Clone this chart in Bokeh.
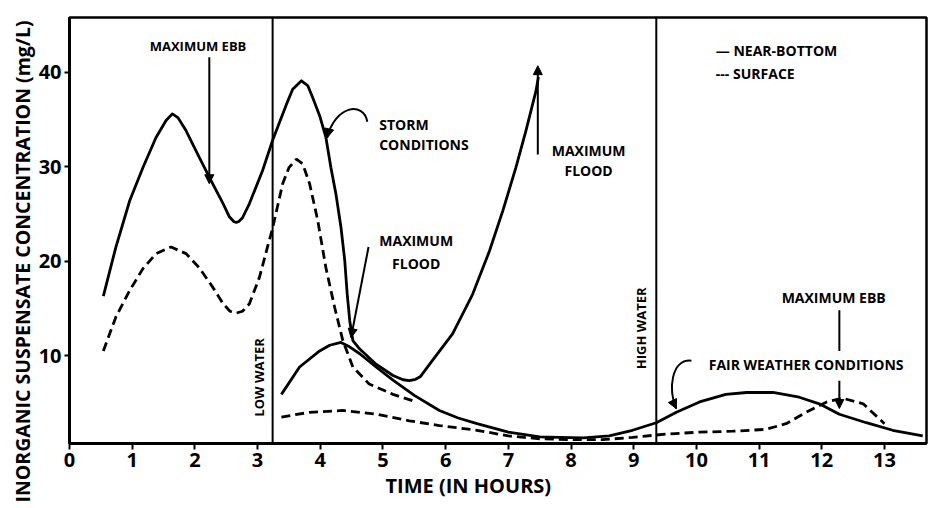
import math

from bokeh.plotting import figure
from bokeh.models import Range1d, FixedTicker, Span, Label, Arrow, NormalHead, Title
from bokeh.embed import file_html
from bokeh.resources import INLINE

FONT = "Open Sans"

# Storm conditions, near-bottom concentration (mg/L) against time (hours)
storm_bottom_time = [0.54, 0.74, 0.96, 1.17, 1.38, 1.54, 1.64, 1.73, 1.86, 2.07, 2.26,
                     2.45, 2.55, 2.62, 2.66, 2.70, 2.76, 2.87, 3.08, 3.24, 3.46, 3.56,
                     3.70, 3.80, 3.88, 3.99, 4.09, 4.17, 4.25, 4.33, 4.39, 4.43, 4.47,
                     4.52, 4.63, 4.89, 5.16, 5.32, 5.42, 5.52, 5.60, 5.79, 6.11, 6.43,
                     6.70, 6.91, 7.12, 7.28, 7.44, 7.48]
storm_bottom_conc = [16.3, 21.5, 26.4, 29.9, 33.1, 34.9, 35.6, 35.2, 33.8, 31.0, 28.5,
                     26.1, 24.7, 24.2, 24.1, 24.2, 24.6, 26.1, 29.6, 32.8, 36.6, 38.2,
                     39.1, 38.6, 37.3, 35.4, 33.1, 29.9, 27.1, 23.6, 20.1, 16.5, 13.7,
                     11.6, 10.7, 9.1, 7.9, 7.45, 7.35, 7.5, 7.8, 9.5, 12.3, 16.5,
                     21.1, 25.3, 29.9, 33.8, 38.0, 39.5]

# Storm conditions, surface concentration
storm_surface_time = [0.54, 0.74, 0.96, 1.17, 1.38, 1.62, 1.86, 2.07, 2.29, 2.45, 2.56,
                      2.66, 2.76, 2.87, 3.03, 3.17, 3.24, 3.40, 3.50, 3.62, 3.72, 3.83,
                      3.96, 4.09, 4.23, 4.36, 4.52, 4.78, 5.16, 5.53]
storm_surface_conc = [10.5, 14.1, 16.9, 19.2, 20.8, 21.5, 20.8, 19.3, 17.2, 15.5, 14.7,
                      14.5, 14.7, 15.5, 18.3, 21.8, 23.5, 28.2, 29.9, 30.8, 30.3, 28.2,
                      24.3, 19.3, 15.1, 11.6, 8.8, 7.0, 5.9, 5.1]

# Fair weather conditions, near-bottom concentration
fair_bottom_time = [3.38, 3.67, 3.99, 4.15, 4.33, 4.45, 4.63, 4.89, 5.16, 5.50, 5.90,
                    6.20, 6.50, 7.00, 7.50, 7.81, 8.20, 8.61, 8.98, 9.36, 9.68, 10.05,
                    10.47, 10.80, 11.22, 11.64, 11.96, 12.28, 12.71, 13.13, 13.61]
fair_bottom_conc = [5.9, 8.8, 10.5, 11.1, 11.4, 11.0, 10.2, 8.8, 7.4, 5.8, 4.2,
                    3.4, 2.8, 1.9, 1.4, 1.35, 1.3, 1.5, 2.1, 2.9, 4.0, 5.1,
                    5.9, 6.1, 6.1, 5.6, 4.9, 3.8, 2.9, 2.1, 1.5]

# Fair weather conditions, surface concentration
fair_surface_time = [3.38, 3.83, 4.36, 4.89, 5.42, 5.90, 6.50, 7.00, 7.50, 8.00, 8.50,
                     8.98, 9.52, 10.05, 10.58, 11.11, 11.43, 11.75, 12.08, 12.33, 12.66,
                     13.00]
fair_surface_conc = [3.5, 4.0, 4.2, 3.8, 3.1, 2.6, 2.1, 1.5, 1.2, 1.1, 1.1,
                     1.35, 1.7, 1.9, 2.0, 2.2, 2.8, 4.0, 5.1, 5.5, 4.9,
                     2.8]

x_ticks = list(range(0, 14))
y_ticks = [10, 20, 30, 40]

low_water_time = 3.24
high_water_time = 9.36

x_title = "TIME (IN HOURS)"
y_title = "INORGANIC SUSPENSATE CONCENTRATION (mg/L)"

p = figure(width=935, height=508,
           x_range=Range1d(0, 13.67), y_range=Range1d(0.7, 45.8),
           output_backend="svg", toolbar_location=None, min_border=0)
p.min_border_left = 69
p.min_border_right = 9
p.min_border_top = 17
p.min_border_bottom = 65
p.grid.visible = False
p.background_fill_color = "white"
p.border_fill_color = "white"
p.outline_line_color = "black"
p.outline_line_width = 2.5

p.xaxis.ticker = FixedTicker(ticks=x_ticks)
p.yaxis.ticker = FixedTicker(ticks=y_ticks)
for ax in (p.xaxis[0], p.yaxis[0]):
    ax.axis_line_width = 3
    ax.axis_line_color = "black"
    ax.major_tick_in = 0
    ax.major_tick_line_width = 2
    ax.major_tick_line_color = "black"
    ax.minor_tick_line_color = None
    ax.major_label_text_font = FONT
    ax.major_label_text_font_style = "bold"
    ax.major_label_text_font_size = "20px"
    ax.major_label_text_color = "black"
p.xaxis.major_tick_out = 6
p.xaxis.major_label_standoff = 3
p.yaxis.major_tick_out = 5
p.yaxis.major_label_standoff = 3

# Axis titles sit off-centre, so they are side titles rather than axis labels
p.add_layout(Title(text=x_title, align="left", offset=316, standoff=0,
                   text_font=FONT, text_font_style="bold", text_font_size="20px",
                   text_color="black"), "below")
p.add_layout(Title(text=y_title, align="right", offset=3, standoff=0,
                   text_font=FONT, text_font_style="bold", text_font_size="19.5px",
                   text_color="black"), "left")

# Low and high water markers
for t in (low_water_time, high_water_time):
    p.add_layout(Span(location=t, dimension="height", line_color="black", line_width=2))

# Concentration curves
p.line(storm_bottom_time, storm_bottom_conc, line_color="black", line_width=2.8,
       line_join="round")
p.line(storm_surface_time, storm_surface_conc, line_color="black", line_width=2.8,
       line_dash="9 5")
p.line(fair_bottom_time, fair_bottom_conc, line_color="black", line_width=2.8,
       line_join="round")
p.line(fair_surface_time, fair_surface_conc, line_color="black", line_width=2.8,
       line_dash="9 5")


def head():
    return NormalHead(size=9, fill_color="black", line_color="black", line_width=1)


def label(x, y, text, size="14px", align="center", angle=0.0):
    p.add_layout(Label(x=x, y=y, text=text, text_font=FONT, text_font_style="bold",
                       text_font_size=size, text_align=align, text_baseline="middle",
                       text_color="black", angle=angle))


# Straight annotation arrows
p.add_layout(Arrow(end=head(), x_start=2.23, y_start=41.6, x_end=2.23, y_end=28.2,
                   line_width=2, line_color="black"))
p.add_layout(Arrow(end=head(), x_start=4.77, y_start=21.5, x_end=4.49, y_end=11.9,
                   line_width=2, line_color="black"))
p.add_layout(Arrow(end=head(), x_start=7.47, y_start=31.3, x_end=7.47, y_end=40.7,
                   line_width=2, line_color="black"))
p.segment(x0=[12.28], y0=[14.8], x1=[12.28], y1=[10.5], line_color="black", line_width=2)
p.add_layout(Arrow(end=head(), x_start=12.28, y_start=7.35, x_end=12.28, y_end=4.4,
                   line_width=2, line_color="black"))

# Curved arrows for the storm and fair-weather callouts
p.bezier(x0=[4.75, 9.92], y0=[34.76, 9.47], x1=[4.11, 9.68], y1=[33.07, 4.39],
         cx0=[4.69, 9.60], cy0=[36.98, 9.69], cx1=[4.23, 9.54], cy1=[36.46, 6.3],
         line_color="black", line_width=2)
p.add_layout(Arrow(end=head(), x_start=4.23, y_start=36.46, x_end=4.11, y_end=33.07,
                   line_alpha=0))
p.add_layout(Arrow(end=head(), x_start=9.54, y_start=6.3, x_end=9.68, y_end=4.39,
                   line_alpha=0))

# Text annotations
label(2.05, 42.8, "MAXIMUM EBB", size="13px")
label(4.94, 34.5, "STORM", align="left")
label(4.94, 32.4, "CONDITIONS", align="left")
label(5.53, 22.2, "MAXIMUM")
label(5.53, 19.8, "FLOOD")
label(8.28, 31.7, "MAXIMUM")
label(8.28, 29.6, "FLOOD")
label(12.19, 16.2, "MAXIMUM EBB")
label(11.75, 9.1, "FAIR WEATHER CONDITIONS")
label(3.03, 7.7, "LOW WATER", size="13px", angle=math.pi / 2)
label(9.12, 12.9, "HIGH WATER", size="13px", angle=math.pi / 2)
label(10.31, 42.3, "\u2014 NEAR-BOTTOM", align="left")
label(10.31, 39.9, "--- SURFACE", align="left")

open("out.html", "w").write(file_html(p, INLINE))
